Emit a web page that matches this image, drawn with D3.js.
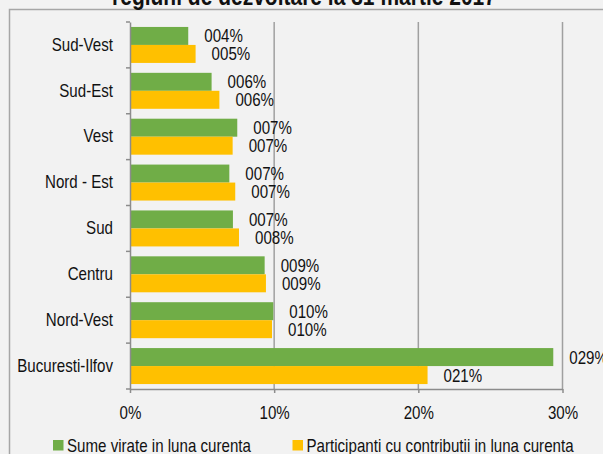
<!DOCTYPE html>
<html><head><meta charset="utf-8">
<script src="https://cdn.jsdelivr.net/npm/d3@7"></script>
<style>
html,body{margin:0;padding:0;background:#f2f2f2;}
svg{display:block;}
text{font-family:'Liberation Sans',Arial,sans-serif;fill:#111;}
</style></head>
<body>
<svg id="c" width="603" height="454"></svg>
<script>
const categories = ["Sud-Vest","Sud-Est","Vest","Nord - Est","Sud","Centru","Nord-Vest","Bucuresti-Ilfov"];
const sumeVirate = [4.04, 5.66, 7.44, 6.89, 7.14, 9.34, 9.94, 29.36];
const participanti = [4.55, 6.2, 7.12, 7.3, 7.56, 9.43, 9.85, 20.64];
const seriesNames = ["Sume virate in luna curenta","Participanti cu contributii in luna curenta"];
const seriesColors = ["#70ad47","#ffc000"];
const xTicks = [0, 10, 20, 30];
const titleText = "regiuni de dezvoltare la 31 martie 2017";

const S = 0.84; // horizontal condensing to emulate a narrow face
const svg = d3.select("#c");
const W = 603, H = 454;
svg.append("rect").attr("width",W).attr("height",H).attr("fill","#f2f2f2");
svg.append("rect").attr("x",9.5).attr("y",9.5).attr("width",W+20).attr("height",H+20)
  .attr("fill","#f2f2f2").attr("stroke","#a6a6a6").attr("stroke-width",1.5);

svg.append("text").attr("x",304/S).attr("y",5).attr("transform",`scale(${S},1)`)
  .attr("text-anchor","middle").attr("font-weight","bold").attr("font-size",25).text(titleText);

const x = d3.scaleLinear().domain([0,30]).range([130,562.5]);
const y = d3.scaleBand().domain(categories).range([22,389]).paddingInner(0).paddingOuter(0);
const ys = d3.scaleBand().domain([0,1]).range([0,y.bandwidth()]).paddingInner(0).paddingOuter(0.275);

svg.append("g").selectAll("line").data(xTicks.filter(d=>d>0)).join("line")
  .attr("x1",d=>x(d)).attr("x2",d=>x(d)).attr("y1",22).attr("y2",389)
  .attr("stroke","#a0a0a0").attr("stroke-width",1.5);

const rows = categories.map((c,i)=>({cat:c, vals:[sumeVirate[i], participanti[i]]}));
const fmt = v => String(Math.round(v)).padStart(3,"0") + "%";

const g = svg.append("g").selectAll("g").data(rows).join("g")
  .attr("transform",d=>`translate(0,${y(d.cat)})`);
g.selectAll("rect").data(d=>d.vals.map((v,k)=>({v,k}))).join("rect")
  .attr("x",x(0)).attr("y",d=>ys(d.k)).attr("width",d=>x(d.v)-x(0)).attr("height",ys.bandwidth())
  .attr("fill",d=>seriesColors[d.k]);
g.selectAll("text").data(d=>d.vals.map((v,k)=>({v,k}))).join("text")
  .attr("x",d=>(x(d.v)+16)/S).attr("transform",`scale(${S},1)`)
  .attr("y",d=>ys(d.k)+ys.bandwidth()/2).attr("dy","0.36em")
  .attr("font-size",18).text(d=>fmt(d.v));

const yAxis = d3.axisLeft(y).tickSize(4).tickPadding(13).tickSizeOuter(0);
const ya = svg.append("g").attr("transform","translate(130,0)").call(yAxis);
ya.attr("font-family",null).attr("font-size",null);
ya.select(".domain").attr("stroke","#8c8c8c").attr("stroke-width",1.5);
ya.selectAll(".tick line").attr("stroke","#8c8c8c").attr("stroke-width",1.5)
  .attr("transform",`translate(0,${-y.bandwidth()/2})`);
ya.selectAll(".tick text").attr("font-size",18).attr("fill","#111")
  .attr("x",-17/S).attr("transform",`scale(${S},1)`);
ya.append("line").attr("x1",-4).attr("x2",0).attr("y1",389).attr("y2",389).attr("stroke","#8c8c8c").attr("stroke-width",1.5);

const xAxis = d3.axisBottom(x).tickValues(xTicks).tickFormat(d=>d+"%").tickSize(4).tickPadding(13).tickSizeOuter(0);
const xa = svg.append("g").attr("transform","translate(0,389)").call(xAxis);
xa.attr("font-family",null).attr("font-size",null);
xa.select(".domain").attr("stroke","#8c8c8c").attr("stroke-width",1.5);
xa.selectAll(".tick line").attr("stroke","#8c8c8c").attr("stroke-width",1.5);
xa.selectAll(".tick text").attr("font-size",18).attr("fill","#111").attr("transform",`scale(${S},1)`);

const legX = [53, 292.5];
const lg = svg.append("g").selectAll("g").data(seriesNames).join("g")
  .attr("transform",(d,i)=>`translate(${legX[i]},440)`);
lg.append("rect").attr("width",10.5).attr("height",10.5).attr("fill",(d,i)=>seriesColors[i]);
lg.append("text").attr("x",14/S).attr("transform",`scale(${S},1)`)
  .attr("y",5.5).attr("dy","0.36em").attr("font-size",18).text(d=>d);
</script>
</body></html>
